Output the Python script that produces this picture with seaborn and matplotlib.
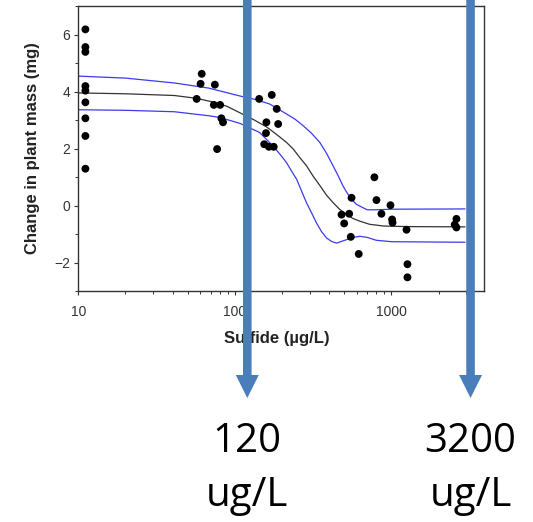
import numpy as np
import pandas as pd
import matplotlib
matplotlib.use("Agg")
import matplotlib.pyplot as plt
import seaborn as sns
from matplotlib.patches import Polygon
from matplotlib.ticker import LogLocator, FixedLocator, NullFormatter

# ---------------- data ----------------
sulfide = [11.1, 11.1, 11.1, 11.1, 11.1, 11.1, 11.1, 11.1, 11.1,
           57, 61.4, 60.4, 74.5, 73.4, 80.5, 77, 82, 84,
           143, 172, 185, 189, 159, 158, 154, 165, 177,
           480, 499, 537, 556, 550, 618,
           778, 802, 863, 986, 1009, 1016, 1248, 1265, 1265,
           2535, 2600, 2600]
mass = [6.18, 5.56, 5.39, 4.19, 4.03, 3.62, 3.06, 2.44, 1.29,
        3.74, 4.62, 4.27, 4.24, 3.53, 3.53, 1.98, 3.06, 2.92,
        3.74, 3.88, 3.39, 2.86, 2.92, 2.54, 2.15, 2.06, 2.06,
        -0.32, -0.63, -0.29, 0.27, -1.10, -1.70,
        0.99, 0.19, -0.29, 0.01, -0.49, -0.60, -0.85, -2.06, -2.52,
        -0.67, -0.47, -0.77]

fit_x = [10, 20, 41, 57, 74, 89, 108, 131, 159, 175, 194, 214, 236, 260,
         287, 316, 349, 385, 424, 468, 516, 570, 628, 726, 890, 1260, 2950]
fit_y = [3.95, 3.92, 3.86, 3.76, 3.62, 3.48, 3.25, 3.02, 2.76, 2.59, 2.40,
         2.21, 1.98, 1.68, 1.39, 1.03, 0.70, 0.36, 0.10, -0.14, -0.32,
         -0.46, -0.55, -0.66, -0.72, -0.74, -0.75]

upper_x = [10, 20, 41, 68, 110, 135, 167, 214, 242, 273, 308, 349, 385,
           424, 457, 491, 524, 556, 598, 659, 700, 800, 1000, 2950]
upper_y = [4.54, 4.47, 4.30, 4.12, 3.83, 3.72, 3.56, 3.21, 3.03, 2.80, 2.54,
           2.21, 1.83, 1.39, 1.04, 0.68, 0.42, 0.21, 0.04, -0.08, -0.15,
           -0.15, -0.13, -0.12]

lower_x = [10, 20, 41, 68, 80, 108, 144, 175, 194, 214, 230, 248, 267, 287,
           309, 332, 357, 385, 414, 446, 516, 570, 628, 700, 800, 1000, 2950]
lower_y = [3.36, 3.34, 3.29, 3.15, 3.09, 2.88, 2.56, 2.09, 1.80, 1.50, 1.21,
           0.92, 0.50, 0.09, -0.26, -0.61, -0.91, -1.14, -1.26, -1.32, -1.20,
           -1.12, -1.08, -1.12, -1.22, -1.27, -1.29]

arrow_values = [120, 3200]
arrow_labels = ["120\nug/L", "3200\nug/L"]

xlabel = "Sulfide (\u00b5g/L)"
ylabel = "Change in plant mass (mg)"
yticks = [-2, 0, 2, 4, 6]
xticks = [10, 100, 1000]
xticklabels = ["10", "100", "1000"]

# ---------------- figure ----------------
sns.set_style("white")
plt.rcParams["font.family"] = ["Liberation Sans", "DejaVu Sans"]

W, H = 533, 522
fig = plt.figure(figsize=(W / 100, H / 100), dpi=100)
ax = fig.add_axes([78.3 / W, 1 - 291 / H, (484 - 78.3) / W, (291 - 6) / H])

pts = pd.DataFrame({"x": sulfide, "y": mass})
sns.scatterplot(data=pts, x="x", y="y", ax=ax, color="black", s=32,
                edgecolor="none", zorder=3, legend=False)

fit = pd.DataFrame({"x": fit_x, "y": fit_y})
up = pd.DataFrame({"x": upper_x, "y": upper_y})
lo = pd.DataFrame({"x": lower_x, "y": lower_y})
for df, col in [(fit, "#333333"), (up, "#3b3bf0"), (lo, "#3b3bf0")]:
    sns.lineplot(data=df, x="x", y="y", ax=ax, color=col, lw=0.9,
                 sort=False, estimator=None, zorder=2)

ax.set_xscale("log")
ax.set_xlim(10, 3900)
ax.set_ylim(-3, 7)
ax.set_xticks(xticks)
ax.set_xticklabels(xticklabels)
ax.xaxis.set_minor_locator(LogLocator(base=10, subs=np.arange(2, 10)))
ax.xaxis.set_minor_formatter(NullFormatter())
ax.set_yticks(yticks)
ax.yaxis.set_minor_locator(FixedLocator([-3, -1, 1, 3, 5, 7]))

for s in ax.spines.values():
    s.set_color("#333333")
    s.set_linewidth(1.0)
    s.set_visible(True)

ax.tick_params(axis="both", which="major", direction="out", length=3,
               width=0.8, color="#333333", labelsize=10, labelcolor="#333333",
               bottom=True, left=True)
ax.tick_params(axis="x", which="major", pad=7)
ax.tick_params(axis="y", which="major", pad=3)
ax.tick_params(axis="both", which="minor", direction="out", length=2,
               width=0.7, color="#333333", bottom=True, left=True)

ax.set_xlabel(xlabel, fontsize=12, fontweight="bold", color="#222222")
ax.set_ylabel(ylabel, fontsize=12, fontweight="bold", color="#222222")
ax.xaxis.set_label_coords(0.49, -0.165)
ax.yaxis.set_label_coords(-0.112, 0.5)
ax.xaxis.label.set_va("center")
ax.yaxis.label.set_va("center")

# ---------------- arrows ----------------
fig.canvas.draw()
blue = "#4A7EBB"
for val, lab in zip(arrow_values, arrow_labels):
    xc = ax.transData.transform((val, 1))[0]
    hw, hh = 4.3, 11.5
    top, neck, tip = 0, 375, 398
    verts_px = [(xc - hw, top), (xc + hw, top), (xc + hw, neck),
                (xc + hh, neck), (xc, tip), (xc - hh, neck), (xc - hw, neck)]
    verts = [(vx / W, 1 - vy / H) for vx, vy in verts_px]
    fig.patches.append(Polygon(verts, closed=True, transform=fig.transFigure,
                               facecolor=blue, edgecolor="none", zorder=10))
    l1, l2 = lab.split("\n")
    fig.text(xc / W, 1 - 452 / H, l1, ha="center", va="baseline",
             fontsize=29, family=["Open Sans", "DejaVu Sans"], color="black")
    fig.text(xc / W, 1 - 506 / H, l2, ha="center", va="baseline",
             fontsize=29, family=["Open Sans", "DejaVu Sans"], color="black")

fig.savefig("out.png", dpi=100)
